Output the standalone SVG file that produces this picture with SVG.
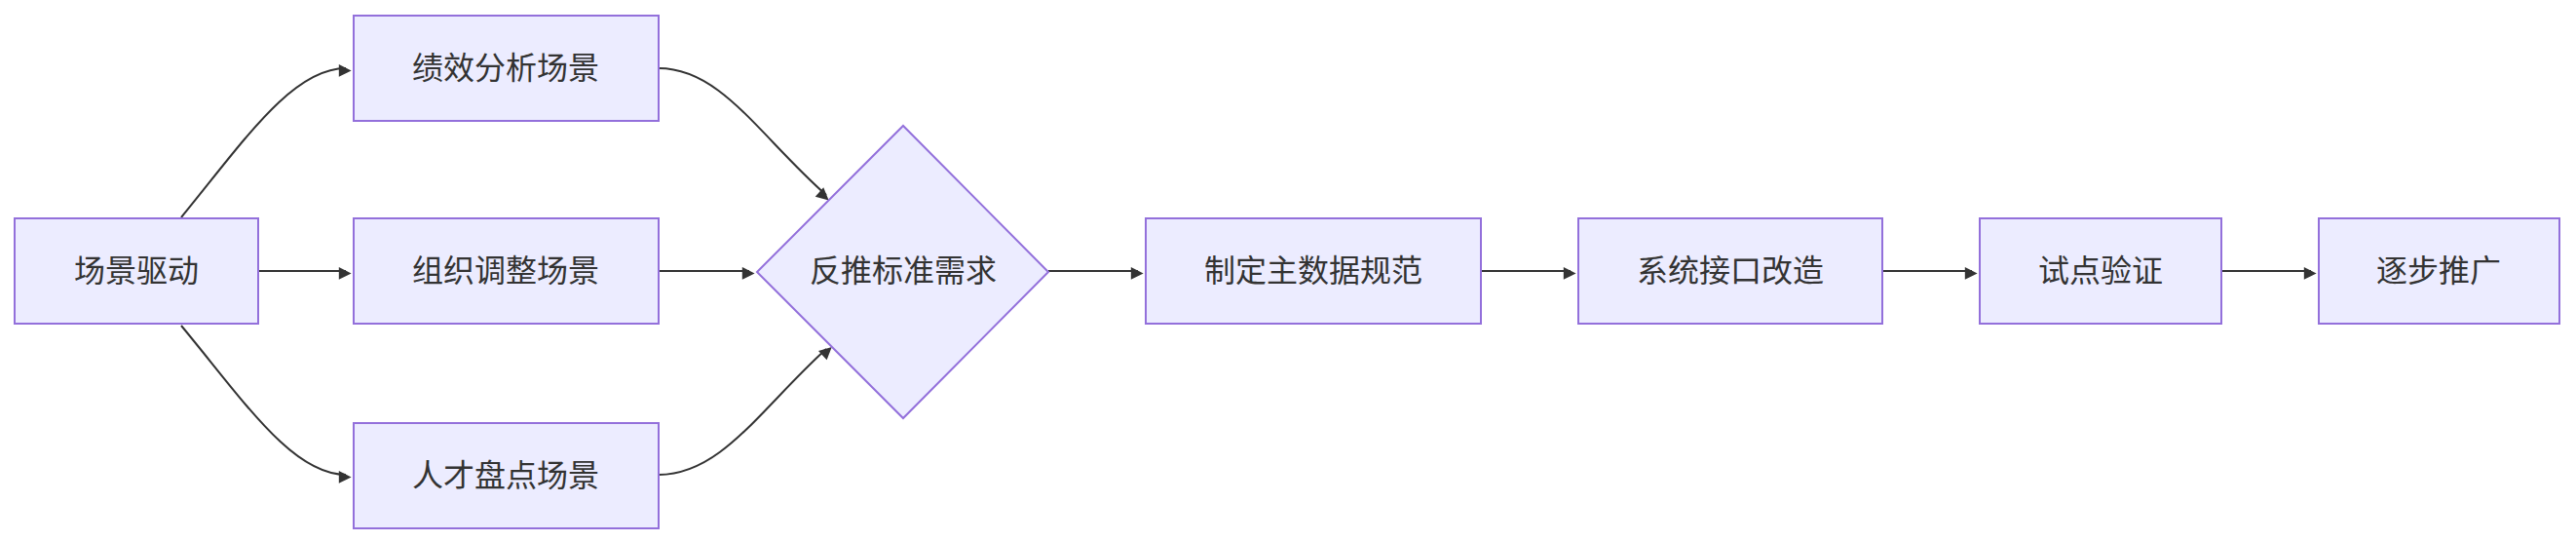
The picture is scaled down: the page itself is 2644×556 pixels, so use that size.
<svg xmlns="http://www.w3.org/2000/svg" width="2644" height="556" viewBox="0 0 2644 556">
<style>
.n{fill:#ECECFF;stroke:#9370DB;stroke-width:2}
.t{font-family:"Liberation Sans","Noto Sans CJK SC",sans-serif;font-size:32px;fill:#333;text-anchor:middle;dominant-baseline:central}
.e{fill:none;stroke:#333;stroke-width:2}
</style>
<defs><marker id="a" viewBox="0 0 10 10" refX="9" refY="5" markerWidth="8" markerHeight="8" orient="auto" markerUnits="userSpaceOnUse" style="overflow:visible"><path d="M0,0L10,5L0,10z" fill="#333" transform="scale(1.6)" /></marker></defs>
<rect width="2644" height="556" fill="#fff"/>
<g id="connectors">
<path class="e" marker-end="url(#a)" d="M186,223C250,145 300,70 355,70"/>
<path class="e" marker-end="url(#a)" d="M265,278H355"/>
<path class="e" marker-end="url(#a)" d="M186,334C250,411 300,487 355,487"/>
<path class="e" marker-end="url(#a)" d="M676,70C740,70 780,140 848,200"/>
<path class="e" marker-end="url(#a)" d="M676,278H769"/>
<path class="e" marker-end="url(#a)" d="M676,487C740,487 780,420 848,358"/>
<path class="e" marker-end="url(#a)" d="M1076,278H1168"/>
<path class="e" marker-end="url(#a)" d="M1520,278H1612"/>
<path class="e" marker-end="url(#a)" d="M1932,278H2024"/>
<path class="e" marker-end="url(#a)" d="M2280,278H2372"/>
</g>
<g id="n1"><rect class="n" x="15" y="224" width="250" height="108"/><text class="t" x="140" y="278">场景驱动</text></g>
<g id="n2"><rect class="n" x="363" y="16" width="313" height="108"/><text class="t" x="519" y="70">绩效分析场景</text></g>
<g id="n3"><rect class="n" x="363" y="224" width="313" height="108"/><text class="t" x="519" y="278">组织调整场景</text></g>
<g id="n4"><rect class="n" x="363" y="434" width="313" height="108"/><text class="t" x="519" y="488">人才盘点场景</text></g>
<g id="n5"><polygon class="n" points="927,129 1076,279 927,429 777,279"/><text class="t" x="927" y="278">反推标准需求</text></g>
<g id="n6"><rect class="n" x="1176" y="224" width="344" height="108"/><text class="t" x="1348" y="278">制定主数据规范</text></g>
<g id="n7"><rect class="n" x="1620" y="224" width="312" height="108"/><text class="t" x="1776" y="278">系统接口改造</text></g>
<g id="n8"><rect class="n" x="2032" y="224" width="248" height="108"/><text class="t" x="2156" y="278">试点验证</text></g>
<g id="n9"><rect class="n" x="2380" y="224" width="247" height="108"/><text class="t" x="2503" y="278">逐步推广</text></g>
</svg>
